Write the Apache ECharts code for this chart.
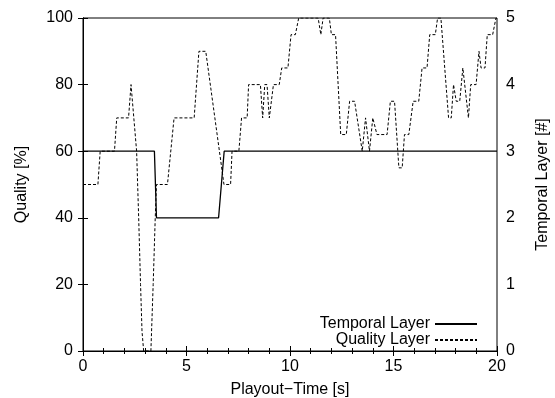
<!DOCTYPE html>
<html>
<head>
<meta charset="utf-8">
<script src="https://cdn.jsdelivr.net/npm/echarts@6/dist/echarts.min.js"></script>
<style>
html, body { margin: 0; padding: 0; background: #fff; }
#main { width: 555px; height: 398px; }
</style>
</head>
<body>
<div id="main"></div>
<script>
// tick values
var timeTicks = [0, 5, 10, 15, 20]
var qualityTicks = [0, 20, 40, 60, 80, 100]
var layerTicks = [0, 1, 2, 3, 4, 5]

// Temporal Layer (right axis, #)
var layerTime  = [0, 3.45, 3.55, 6.55, 6.82, 20]
var layerValue = [3, 3,    2,    2,    3,    3]

// Quality Layer (left axis, %)
var qualityTime = [0, 0.72, 0.83, 1.52, 1.63, 2.2, 2.32, 2.4, 2.59, 2.69, 2.78, 2.85, 2.93, 3.28, 3.39, 3.49, 3.55,
    4.08, 4.4, 5.37, 5.6, 5.93, 6.81, 7.13, 7.2, 7.53, 7.66, 7.93, 8.0, 8.57, 8.68, 8.78, 8.89, 9.0, 9.2,
    9.48, 9.6, 9.9, 10.05, 10.26, 10.42, 11.36, 11.49, 11.6, 11.9, 12.0, 12.2, 12.45, 12.72, 12.88, 13.12,
    13.49, 13.65, 13.84, 14.0, 14.2, 14.69, 14.85, 15.05, 15.26, 15.42, 15.53, 15.74, 15.95, 16.22, 16.38,
    16.62, 16.75, 17.02, 17.13, 17.29, 17.66, 17.79, 17.9, 18.03, 18.2, 18.35, 18.62, 18.73, 18.99, 19.13,
    19.23, 19.42, 19.53, 19.79, 19.95, 20]
var qualityValue = [50, 50, 60, 60, 70, 70, 80, 80, 60, 40, 20, 6, 0, 0, 20, 40, 50,
    50, 70, 70, 90, 90, 50, 50, 60, 60, 70, 70, 80, 80, 70, 80, 80, 70, 80,
    80, 85, 85, 95, 95, 100, 100, 95, 100, 100, 95, 95, 65, 65, 75, 75,
    60, 70, 60, 70, 65, 65, 75, 75, 55, 55, 65, 65, 75, 75, 85,
    85, 95, 95, 100, 100, 70, 70, 80, 75, 75, 85, 70, 80, 80, 90,
    85, 85, 95, 95, 100, 100]

var layerData = layerTime.map(function (t, i) { return [t, layerValue[i]] })
var qualityData = qualityTime.map(function (t, i) { return [t, qualityValue[i]] })

var font = 'Liberation Sans, Arial, sans-serif'
var chart = echarts.init(document.getElementById('main'))

var option = {
    animation: false,
    textStyle: { fontFamily: font },
    grid: {
        left: 83, right: 58, top: 18, bottom: 47,
        outerBoundsMode: 'none',
        show: true, borderColor: '#000', borderWidth: 1
    },
    legend: {
        orient: 'vertical',
        right: 77,
        bottom: 50,
        padding: 0,
        align: 'right',
        itemGap: 0,
        itemWidth: 42,
        itemHeight: 14,
        // hide the point marker, keep only the line sample
        itemStyle: { opacity: 0, borderWidth: 0 },
        textStyle: { fontSize: 16, color: '#000', fontFamily: font },
        data: ['Temporal Layer', 'Quality Layer']
    },
    xAxis: [{
        type: 'value',
        min: timeTicks[0], max: timeTicks[timeTicks.length - 1], interval: 5,
        position: 'bottom',
        name: 'Playout\u2212Time [s]',
        nameLocation: 'middle',
        nameGap: 31,
        nameTextStyle: { fontSize: 16, color: '#000', fontFamily: font },
        axisLine: { lineStyle: { color: '#000', width: 1 } },
        axisTick: { inside: true, length: 5, lineStyle: { color: '#000' } },
        minorTick: { show: true, splitNumber: 5, length: 3, lineStyle: { color: '#000' } },
        axisLabel: { fontSize: 16, color: '#000', margin: 8, fontFamily: font },
        splitLine: { show: false }
    }, {
        type: 'value',
        min: 0, max: 20, interval: 5,
        position: 'top',
        axisLine: { lineStyle: { color: '#000', width: 1 } },
        axisTick: { inside: true, length: 5, lineStyle: { color: '#000' } },
        minorTick: { show: true, splitNumber: 5, length: 3, lineStyle: { color: '#000' } },
        axisLabel: { show: false },
        splitLine: { show: false }
    }],
    yAxis: [{
        type: 'value',
        min: qualityTicks[0], max: qualityTicks[qualityTicks.length - 1], interval: 20,
        position: 'left',
        name: 'Quality [%]',
        nameLocation: 'middle',
        nameRotate: 90,
        nameGap: 53,
        nameTextStyle: { fontSize: 16, color: '#000', fontFamily: font },
        axisLine: { show: true, lineStyle: { color: '#000', width: 1 } },
        axisTick: { show: true, inside: true, length: 5, lineStyle: { color: '#000' } },
        axisLabel: { fontSize: 16, color: '#000', margin: 10, fontFamily: font },
        splitLine: { show: false }
    }, {
        type: 'value',
        min: layerTicks[0], max: layerTicks[layerTicks.length - 1], interval: 1,
        position: 'right',
        name: 'Temporal Layer [#]',
        nameLocation: 'middle',
        nameRotate: 90,
        nameGap: 38,
        nameTextStyle: { fontSize: 16, color: '#000', fontFamily: font },
        axisLine: { show: true, lineStyle: { color: '#000', width: 1 } },
        axisTick: { show: true, inside: true, length: 5, lineStyle: { color: '#000' } },
        axisLabel: { fontSize: 16, color: '#000', margin: 9, fontFamily: font },
        splitLine: { show: false }
    }],
    series: [{
        name: 'Temporal Layer',
        type: 'line',
        xAxisIndex: 0,
        yAxisIndex: 1,
        data: layerData,
        symbol: 'none',
        lineStyle: { color: '#000', width: 1.3, type: 'solid' },
        itemStyle: { color: '#000' }
    }, {
        name: 'Quality Layer',
        type: 'line',
        xAxisIndex: 0,
        yAxisIndex: 0,
        data: qualityData,
        symbol: 'none',
        lineStyle: { color: '#000', width: 1, type: [3, 2] },
        itemStyle: { color: '#000' }
    }]
}

chart.setOption(option)
</script>
</body>
</html>
